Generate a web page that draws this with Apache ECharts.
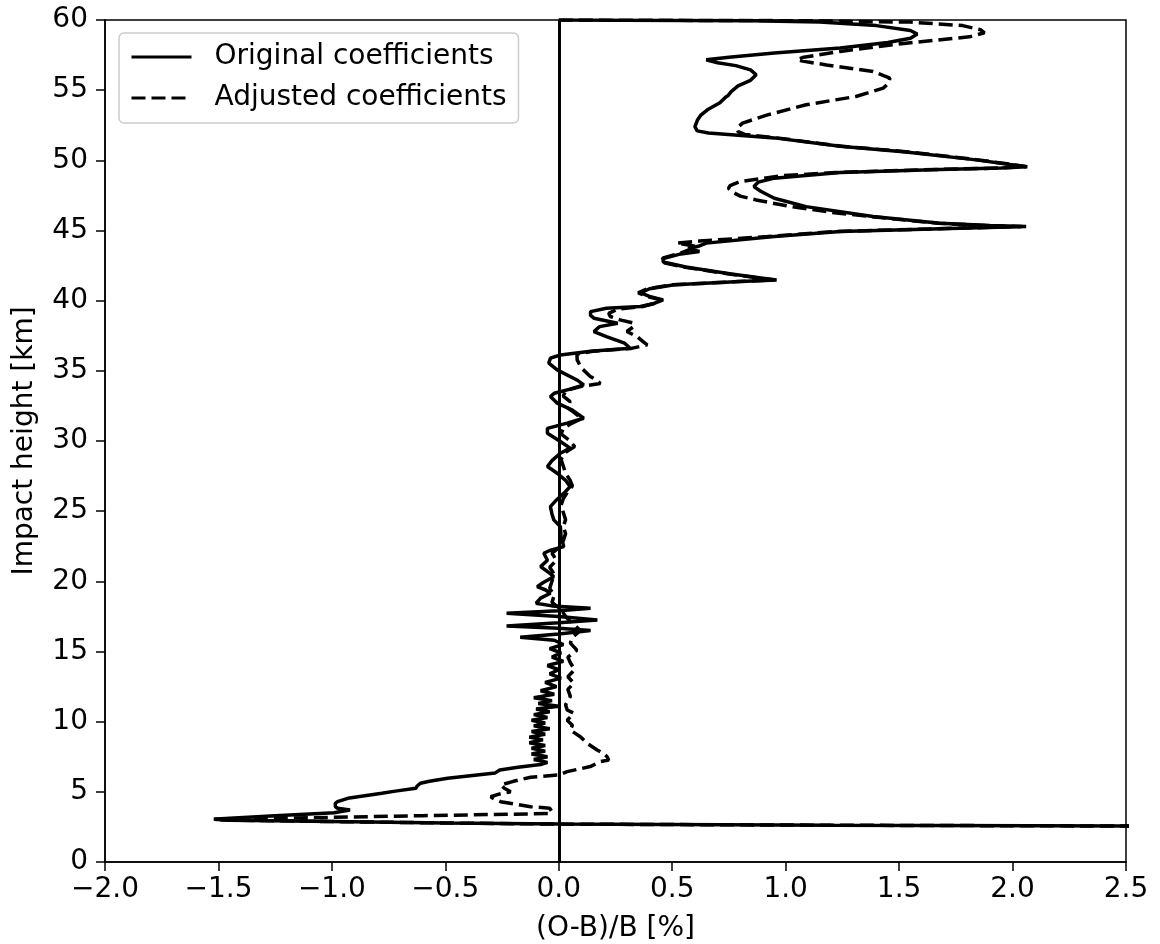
<!DOCTYPE html>
<html>
<head>
<meta charset="utf-8">
<script src="https://cdn.jsdelivr.net/npm/echarts@6/dist/echarts.min.js"></script>
<style>
  html, body { margin: 0; padding: 0; background: #fff; }
  #chart { width: 1160px; height: 944px; }
</style>
</head>
<body>
<div id="chart"></div>
<script>
// top (60 km) to bottom
const origH = [60.0, 59.95, 59.85, 59.6, 59.25, 59.0, 58.7, 58.4, 58.0, 57.65, 57.35, 57.16, 56.95, 56.75, 56.45, 56.1,
  55.7, 55.3, 54.9, 54.6, 54.5, 54.1, 53.6, 53.2, 52.9, 52.4, 52.1, 51.95, 51.6, 51.0, 50.6, 50.05, 49.7, 49.55, 49.45,
  49.35, 49.13, 48.73, 48.45, 48.13, 47.8, 47.3, 46.7, 46.0, 45.52, 45.35, 45.28, 45.2, 44.93, 44.57, 44.1, 43.9, 43.7,
  43.5, 43.3, 43.0, 42.75, 42.4, 41.9, 41.6, 41.48, 41.36, 41.13, 40.85, 40.55, 40.3, 40.06, 39.8, 39.58, 39.46, 39.22,
  38.95, 38.75, 38.39, 38.15, 37.8, 37.44, 36.97, 36.61, 36.4, 36.13, 35.9, 35.55, 35.07, 34.35, 34.0, 33.7, 33.4, 33.17,
  32.9, 32.7, 32.2, 31.62, 31.27, 30.9, 30.55, 29.96, 29.49, 29.13, 28.6, 28.18, 27.7, 27.2, 26.75, 26.4, 25.8, 25.32,
  24.8, 24.38, 23.9, 23.2, 22.47, 22.2, 22.0, 21.5, 21.05, 20.7, 20.33, 19.9, 19.62, 19.4, 19.15, 18.8, 18.44, 18.25,
  18.08, 17.9, 17.72, 17.5, 17.25, 17.05, 16.82, 16.65, 16.49, 16.25, 16.02, 15.8, 15.5, 15.2, 14.9, 14.6, 14.3, 14.0,
  13.7, 13.4, 13.1, 12.8, 12.5, 12.2, 11.95, 11.7, 11.5, 11.3, 11.1, 10.9, 10.7, 10.5, 10.3, 10.1, 9.9, 9.7, 9.5, 9.3,
  9.1, 8.9, 8.7, 8.5, 8.3, 8.1, 7.9, 7.7, 7.5, 7.3, 7.1, 6.95, 6.75, 6.56, 6.35, 6.1, 5.97, 5.75, 5.61, 5.4, 5.25, 5.05,
  4.9, 4.54, 4.3, 4.18, 3.95, 3.83, 3.71, 3.6, 3.51, 3.3, 3.1, 3.04, 2.98, 2.88, 2.78, 2.70, 2.62, 2.56, 2.5];
const origX = [0.00, 0.85, 1.15, 1.40, 1.55, 1.58, 1.55, 1.45, 1.24, 0.95, 0.75, 0.65, 0.70, 0.78, 0.845, 0.87,
  0.845, 0.79, 0.76, 0.745, 0.735, 0.71, 0.655, 0.625, 0.612, 0.60, 0.61, 0.66, 0.95, 1.24, 1.53, 1.83, 1.99, 2.065, 1.95,
  1.68, 1.24, 0.95, 0.88, 0.86, 0.89, 0.95, 1.09, 1.385, 1.68, 1.90, 2.06, 1.85, 1.24, 0.95, 0.65, 0.62, 0.57,
  0.62, 0.53, 0.46, 0.46, 0.56, 0.76, 0.90, 0.96, 0.80, 0.51, 0.40, 0.36, 0.40, 0.46, 0.42, 0.36, 0.21, 0.14,
  0.14, 0.155, 0.26, 0.18, 0.155, 0.21, 0.29, 0.315, 0.14, 0.007, -0.037, -0.044, -0.007, 0.08, 0.11, 0.05, -0.02, -0.037,
  -0.02, -0.007, 0.06, 0.11, 0.037, -0.05, -0.05, 0.007, 0.05, 0.007, -0.03, -0.05, -0.007, 0.03, 0.05, 0.03, -0.01, -0.037,
  -0.03, -0.022, 0.007, 0.01, 0.022, -0.04, -0.066, -0.05, -0.08, -0.05, -0.022, -0.07, -0.095, -0.06, -0.037, -0.08, -0.10, -0.03,
  0.14, 0.0, -0.23, 0.0, 0.17, 0.0, -0.23, 0.0, 0.14, 0.0, -0.17, -0.02, 0.02, -0.04, 0.01, -0.03, 0.02, -0.05,
  0.0, -0.04, 0.01, -0.06, -0.01, -0.08, -0.02, -0.11, -0.03, -0.09, 0.0, -0.10, -0.04, -0.11, -0.05, -0.12, -0.06, -0.11, -0.04, -0.12,
  -0.06, -0.13, -0.07, -0.13, -0.06, -0.12, -0.06, -0.12, -0.05, -0.11, -0.05, -0.08, -0.18, -0.26, -0.28, -0.42, -0.49, -0.57, -0.61, -0.625, -0.63, -0.72,
  -0.78, -0.93, -0.975, -0.985, -0.985, -0.975, -0.92, -0.96, -0.99, -1.25, -1.47, -1.52, -1.45, -1.0, -0.5, 0.0, 1.2, 2.6, 4.0];

const adjH = [60.0, 59.95, 59.85, 59.6, 59.3, 59.09, 58.8, 58.35, 57.76, 57.35, 57.16, 57.0, 56.8, 56.33, 55.86, 55.5,
  55.15, 54.55, 53.96, 53.24, 52.65, 52.3, 52.05, 51.85, 51.6, 51.0, 50.6, 50.05, 49.7, 49.55, 49.45, 49.35, 49.13, 48.9,
  48.49, 48.2, 48.0, 47.7, 47.45, 47.18, 46.71, 46.3, 46.0, 45.52, 45.35, 45.28, 45.2, 44.93, 44.57, 44.25, 44.1, 43.86,
  43.6, 43.38, 43.05, 42.75, 42.4, 41.9, 41.6, 41.48, 41.36, 41.13, 40.85, 40.55, 40.3, 40.06, 39.8, 39.58, 39.4, 39.1,
  38.87, 38.63, 38.4, 38.15, 37.8, 37.44, 37.1, 36.85, 36.6, 36.4, 36.2, 35.78, 35.5, 35.2, 34.6, 34.3, 34.1, 33.9, 33.6,
  33.2, 32.8, 32.4, 32.0, 31.6, 31.2, 30.9, 30.5, 30.0, 29.6, 29.2, 28.7, 28.2, 27.7, 27.2, 26.8, 26.4, 25.9, 25.4, 24.9,
  24.4, 23.9, 23.4, 22.9, 22.4, 22.0, 21.5, 21.0, 20.5, 20.0, 19.5, 19.0, 18.5, 18.0, 17.5, 17.0, 16.5, 16.0, 15.6, 15.1,
  14.6, 14.2, 13.7, 13.2, 12.74, 12.3, 11.8, 11.2, 10.83, 10.6, 10.1, 9.75, 9.4, 8.93, 8.46, 7.98, 7.7, 7.5, 7.27, 7.15,
  6.8, 6.44, 6.2, 6.04, 5.75, 5.49, 5.25, 5.01, 4.85, 4.65, 4.45, 4.3, 3.94, 3.83, 3.6, 3.45, 3.3, 3.15, 3.04, 2.98,
  2.88, 2.78, 2.70, 2.62, 2.56, 2.5];
const adjX = [0.00, 1.06, 1.55, 1.78, 1.86, 1.876, 1.81, 1.53, 1.24, 1.08, 1.05, 1.10, 1.18, 1.385, 1.459, 1.455,
  1.43, 1.31, 1.09, 0.92, 0.81, 0.785, 0.79, 0.82, 0.96, 1.25, 1.54, 1.84, 2.0, 2.06, 1.94, 1.66, 1.22, 0.98,
  0.80, 0.755, 0.748, 0.77, 0.80, 0.87, 1.02, 1.2, 1.37, 1.67, 1.88, 2.04, 1.84, 1.22, 0.92, 0.62, 0.52, 0.61,
  0.57, 0.535, 0.46, 0.45, 0.55, 0.75, 0.89, 0.95, 0.79, 0.50, 0.39, 0.35, 0.39, 0.45, 0.42, 0.37, 0.26, 0.22,
  0.227, 0.27, 0.33, 0.33, 0.30, 0.345, 0.37, 0.39, 0.32, 0.15, 0.08, 0.081, 0.09, 0.10, 0.139, 0.17, 0.183, 0.10, 0.03,
  0.02, 0.05, 0.035, 0.07, 0.10, 0.05, 0.02, 0.01, 0.05, 0.07, 0.03, 0.01, 0.02, 0.03, 0.05, 0.06, 0.04, 0.02, 0.01, 0.02,
  0.03, 0.02, 0.03, 0.02, 0.0, -0.03, -0.01, -0.04, -0.02, -0.03, -0.04, -0.02, -0.03, 0.01, 0.03, 0.06, 0.095, 0.06, 0.051, 0.08,
  0.04, 0.051, 0.07, 0.04, 0.066, 0.04, 0.051, 0.03, 0.037, 0.066, 0.037, 0.06, 0.051, 0.095, 0.125, 0.169, 0.20, 0.213, 0.22, 0.183,
  0.139, 0.037, 0.0, -0.124, -0.2, -0.256, -0.24, -0.212, -0.26, -0.30, -0.28, -0.256, -0.124, -0.04, -0.03, -0.04, -0.6, -1.1, -1.52, -1.45,
  -1.0, -0.5, 0.0, 1.2, 2.6, 4.0];

const xTicks = [-2.0, 2.5, 0.5];   // min, max, step
const yTicks = [0, 60, 5];

const font = 'DejaVu Sans';
const fs = 28;

function pairs(xs, hs) {
  return xs.map((v, i) => [v, hs[i]]);
}

const chart = echarts.init(document.getElementById('chart'));
chart.setOption({
  animation: false,
  backgroundColor: '#fff',
  textStyle: { fontFamily: font, color: '#000' },
  grid: {
    left: 105,
    right: 34,
    top: 20,
    bottom: 82,
    outerBoundsMode: 'none',
    show: true,
    borderColor: '#000',
    borderWidth: 1.5,
    backgroundColor: 'transparent'
  },
  legend: {
    orient: 'vertical',
    left: 119,
    top: 33,
    itemWidth: 60,
    itemHeight: 28,
    itemGap: 13,
    padding: [10, 12, 11, 11],
    backgroundColor: 'rgba(255,255,255,0.8)',
    borderColor: '#cccccc',
    borderWidth: 1.5,
    borderRadius: 5,
    itemStyle: { opacity: 0 },
    lineStyle: { width: 3 },
    textStyle: { fontFamily: font, fontSize: fs, color: '#000', padding: [0, 0, 0, 18] },
    data: ['Original coefficients', 'Adjusted coefficients']
  },
  xAxis: {
    type: 'value',
    min: xTicks[0],
    max: xTicks[1],
    interval: xTicks[2],
    name: '(O-B)/B [%]',
    nameLocation: 'middle',
    nameGap: 53,
    nameTextStyle: { fontFamily: font, fontSize: fs, color: '#000' },
    axisLine: { onZero: false, lineStyle: { color: '#000', width: 1.5 } },
    axisTick: { show: true, inside: false, length: 9, lineStyle: { color: '#000', width: 1.5 } },
    axisLabel: {
      fontFamily: font, fontSize: fs, color: '#000', margin: 14,
      formatter: v => (v < 0 ? '\u2212' : '') + Math.abs(v).toFixed(1)
    },
    splitLine: { show: false }
  },
  yAxis: {
    type: 'value',
    min: yTicks[0],
    max: yTicks[1],
    interval: yTicks[2],
    name: 'Impact height [km]',
    nameLocation: 'middle',
    nameGap: 66,
    nameTextStyle: { fontFamily: font, fontSize: fs, color: '#000' },
    axisLine: { show: true, onZero: false, lineStyle: { color: '#000', width: 1.5 } },
    axisTick: { show: true, inside: false, length: 9, lineStyle: { color: '#000', width: 1.5 } },
    axisLabel: { fontFamily: font, fontSize: fs, color: '#000', margin: 17 },
    splitLine: { show: false }
  },
  series: [
    {
      name: 'Original coefficients',
      type: 'line',
      data: pairs(origX, origH),
      symbol: 'none',
      clip: true,
      lineStyle: { color: '#000', width: 3.5, type: 'solid' },
      itemStyle: { color: '#000' },
      markLine: {
        silent: true,
        symbol: ['none', 'none'],
        label: { show: false },
        lineStyle: { color: '#000', width: 3, type: 'solid' },
        data: [{ xAxis: 0 }]
      },
      z: 3
    },
    {
      name: 'Adjusted coefficients',
      type: 'line',
      data: pairs(adjX, adjH),
      symbol: 'none',
      clip: true,
      lineStyle: { color: '#000', width: 3.5, type: [14, 6] },
      itemStyle: { color: '#000' },
      z: 2
    }
  ]
});
</script>
</body>
</html>
